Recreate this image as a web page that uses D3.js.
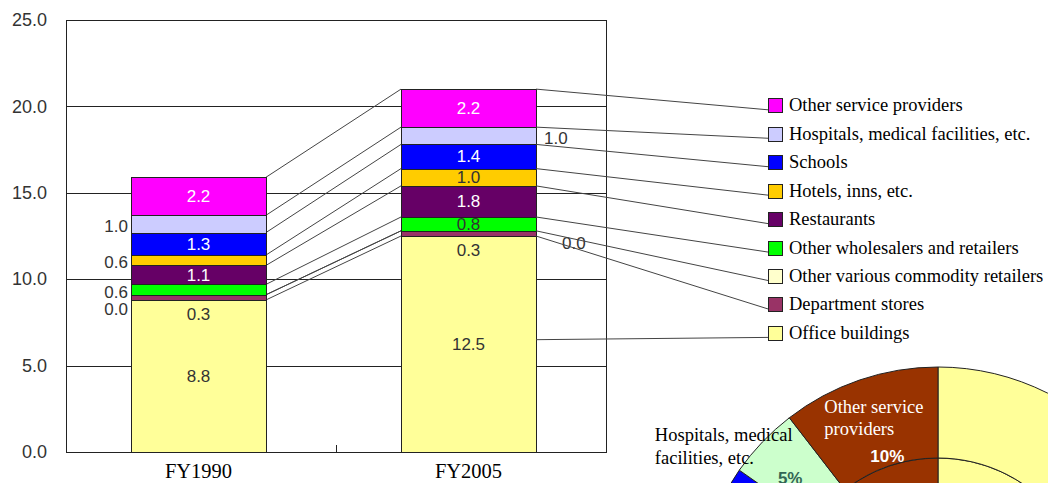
<!DOCTYPE html>
<html>
<head>
<meta charset="utf-8">
<script src="https://cdn.jsdelivr.net/npm/d3@7"></script>
<style>
  html, body { margin: 0; padding: 0; background: #fff; }
  svg { display: block; overflow: hidden; }
</style>
</head>
<body>
<svg id="chart" width="1048" height="483"></svg>
<script>
// ---- data -------------------------------------------------------------
const years = ["FY1990", "FY2005"];

// stacking order, bottom to top
const seriesNames = [
  "Office buildings",
  "Department stores",
  "Other various commodity retailers",
  "Other wholesalers and retailers",
  "Restaurants",
  "Hotels, inns, etc.",
  "Schools",
  "Hospitals, medical facilities, etc.",
  "Other service providers"
];

const fy1990 = [8.8, 0.3, 0.0, 0.6, 1.1, 0.6, 1.3, 1.0, 2.2];
const fy2005 = [12.5, 0.3, 0.0, 0.8, 1.8, 1.0, 1.4, 1.0, 2.2];

const yTicks = [0, 5, 10, 15, 20, 25];

const seriesColors = [
  "#FFFF99", "#993366", "#FFFFCC", "#00FF00", "#660066",
  "#FFCC00", "#0000FF", "#CCCCFF", "#FF00FF"
];

// where each value label sits relative to its segment
const labelModes = {
  FY1990: ["in", "under", "left", "left", "in", "left", "in", "left", "in"],
  FY2005: ["in", "under", "right", "in", "in", "in", "in", "right", "in"]
};

// point of each FY2005 segment (0 = base, 1 = top) that the legend leader starts from
const leaderAnchor = [0.52, 0, 1, 1, 1, 1, 1, 1, 1];

// share breakdown ring colours
const pieColors = [
  "#FFFF99", "#CC99FF", "#FFFFCC", "#33CCCC", "#FF9900",
  "#FF99CC", "#0000FF", "#CCFFCC", "#993300"
];

// ---- layout ----------------------------------------------------------
const svg = d3.select("#chart");
const plot = { left: 66, right: 606, top: 20, bottom: 452 };
const sansFont = "'Liberation Sans', Arial, sans-serif";
const serifFont = "'Liberation Serif', 'Times New Roman', serif";
const ink = "#333";

const y = d3.scaleLinear().domain([0, 25]).range([plot.bottom, plot.top]);
const x = d3.scaleBand().domain(years)
  .range([plot.left - 2.5, plot.right - 2.5])
  .paddingInner(0.5).paddingOuter(0.25);
const bw = x.bandwidth();
const crisp = v => Math.round(v) + 0.5;

// ---- share rings (drawn first, sits at the lower right) ---------------
(function drawRings() {
  const cx = 938, cy = 610;
  const g = svg.append("g").attr("transform", `translate(${cx},${cy})`);
  const pie = d3.pie().sort(null);
  const inner = pie(fy1990);
  const outer = pie(fy2005);
  const rHole = 50, rMid = 152, rOut = 243;
  const arcIn = d3.arc().innerRadius(rHole).outerRadius(rMid);
  const arcOut = d3.arc().innerRadius(rMid).outerRadius(rOut);

  g.selectAll("path.in").data(inner).join("path")
    .attr("class", "in")
    .attr("d", arcIn)
    .attr("fill", (d, i) => pieColors[i])
    .attr("stroke", "#222").attr("stroke-width", 1);
  g.selectAll("path.out").data(outer).join("path")
    .attr("class", "out")
    .attr("d", arcOut)
    .attr("fill", (d, i) => pieColors[i])
    .attr("stroke", "#222").attr("stroke-width", 1);

  const total = d3.sum(fy2005);
  const pct = d3.format(".0%");
  const polar = (a, r) => [r * Math.sin(a), -r * Math.cos(a)];

  // "Other service providers" – name and share inside the ring
  const os = outer[8];
  const osMid = (os.startAngle + os.endAngle) / 2;
  const [px, py] = polar(osMid, rMid + 11);
  g.append("text")
    .attr("x", px - 61).attr("y", py - 43)
    .attr("font-family", serifFont).attr("font-size", 18.5).attr("fill", "#fff")
    .text("Other service");
  g.append("text")
    .attr("x", px - 61).attr("y", py - 21)
    .attr("font-family", serifFont).attr("font-size", 18.5).attr("fill", "#fff")
    .text("providers");
  g.append("text")
    .attr("x", px + 2).attr("y", py).attr("dy", "0.35em")
    .attr("text-anchor", "middle")
    .attr("font-family", sansFont).attr("font-size", 17).attr("font-weight", "bold")
    .attr("fill", "#fff")
    .text(pct(fy2005[8] / total));

  // "Hospitals, medical facilities, etc." – name outside, share inside
  const hp = outer[7];
  const hpMid = (hp.startAngle + hp.endAngle) / 2;
  const [hx, hy] = polar(hpMid, rOut + 27);
  g.append("text")
    .attr("x", hx - 88).attr("y", hy + 18)
    .attr("font-family", serifFont).attr("font-size", 18.5).attr("fill", "#000")
    .text("Hospitals, medical");
  g.append("text")
    .attr("x", hx - 88).attr("y", hy + 41)
    .attr("font-family", serifFont).attr("font-size", 18.5).attr("fill", "#000")
    .text("facilities, etc.");
  const [qx, qy] = polar(hpMid - 0.035, 198);
  g.append("text")
    .attr("x", qx).attr("y", qy).attr("dy", "0.35em")
    .attr("text-anchor", "middle")
    .attr("font-family", sansFont).attr("font-size", 17).attr("font-weight", "bold")
    .attr("fill", "#336655")
    .text(pct(fy2005[7] / total));
})();

// ---- plot area: gridlines and frame ----------------------------------
const grid = svg.append("g").attr("shape-rendering", "crispEdges");
grid.selectAll("line.grid").data(yTicks).join("line")
  .attr("class", "grid")
  .attr("x1", plot.left).attr("x2", plot.right)
  .attr("y1", d => crisp(y(d))).attr("y2", d => crisp(y(d)))
  .attr("stroke", "#222").attr("stroke-width", 1);
grid.append("line")
  .attr("x1", crisp(plot.left)).attr("x2", crisp(plot.left))
  .attr("y1", plot.top).attr("y2", plot.bottom + 0.5)
  .attr("stroke", "#222");
grid.append("line")
  .attr("x1", crisp(plot.right)).attr("x2", crisp(plot.right))
  .attr("y1", plot.top).attr("y2", plot.bottom + 0.5)
  .attr("stroke", "#222");

// y axis labels
const yAxis = svg.append("g")
  .attr("transform", `translate(${plot.left},0)`)
  .call(d3.axisLeft(y).tickValues(yTicks).tickFormat(d3.format(".1f"))
    .tickSize(0).tickPadding(19));
yAxis.select(".domain").remove();
yAxis.selectAll("text")
  .attr("font-family", sansFont).attr("font-size", 18).attr("fill", ink);

// x axis labels
const xAxis = svg.append("g")
  .attr("transform", `translate(0,${plot.bottom})`)
  .call(d3.axisBottom(x).tickSize(0).tickPadding(11));
xAxis.select(".domain").remove();
xAxis.selectAll("text")
  .attr("font-family", serifFont).attr("font-size", 20.5).attr("fill", "#000");

// small category divider tick on the baseline
const divX = (plot.left + plot.right) / 2;
svg.append("line")
  .attr("x1", crisp(divX)).attr("x2", crisp(divX))
  .attr("y1", plot.bottom).attr("y2", plot.bottom - 7)
  .attr("stroke", "#222").attr("shape-rendering", "crispEdges");

// ---- stacked bars ----------------------------------------------------
const rows = years.map((yr, j) => {
  const vals = j === 0 ? fy1990 : fy2005;
  const r = { year: yr };
  seriesNames.forEach((s, i) => { r[s] = vals[i]; });
  return r;
});
const stacked = d3.stack().keys(seriesNames)(rows);

// series lines joining the segment tops of the two bars
svg.append("g").selectAll("line").data(stacked).join("line")
  .attr("x1", x(years[0]) + bw).attr("y1", d => y(d[0][1]))
  .attr("x2", x(years[1])).attr("y2", d => y(d[1][1]))
  .attr("stroke", "#444").attr("stroke-width", 1);

const bars = svg.append("g").attr("shape-rendering", "crispEdges");
stacked.forEach((layer, i) => {
  bars.selectAll(null).data(layer).join("rect")
    .attr("x", d => Math.round(x(d.data.year)) + 0.5)
    .attr("y", d => Math.round(y(d[1])) + 0.5)
    .attr("width", Math.round(bw))
    .attr("height", d => Math.max(0, Math.round(y(d[0])) - Math.round(y(d[1]))))
    .attr("fill", seriesColors[i])
    .attr("stroke", "#222").attr("stroke-width", 1);
});

// value labels
const fmt = d3.format(".1f");
const labels = svg.append("g")
  .attr("font-family", sansFont).attr("font-size", 17);
stacked.forEach((layer, i) => {
  layer.forEach(d => {
    const yr = d.data.year;
    const mode = labelModes[yr][i];
    const v = d[1] - d[0];
    const x0 = x(yr), x1 = x0 + bw;
    const mid = (y(d[0]) + y(d[1])) / 2;
    let tx, ty, anchor, fill = ink;
    if (mode === "in") {
      tx = x0 + bw / 2; ty = mid; anchor = "middle";
      fill = d3.lab(seriesColors[i]).l < 70 ? "#fff" : ink;
    } else if (mode === "under") {
      tx = x0 + bw / 2; ty = y(d[0]) + 14; anchor = "middle";
    } else if (mode === "left") {
      tx = x0 - 3; ty = v > 0 ? mid + 2 : y(d[0]) + 14; anchor = "end";
    } else {
      tx = x1 + (v > 0 ? 8 : 26); ty = v > 0 ? mid + 2 : y(d[0]) + 12; anchor = "start";
    }
    labels.append("text")
      .attr("x", tx).attr("y", ty).attr("dy", "0.35em")
      .attr("text-anchor", anchor).attr("fill", fill)
      .text(fmt(v));
  });
});

// ---- legend with leader lines from the FY2005 bar ----------------------
const legend = { x: 768, top: 105.3, step: 28.45, box: 14 };
const legendOrder = d3.range(seriesNames.length).reverse();
const lg = svg.append("g");
legendOrder.forEach((si, row) => {
  const cyRow = legend.top + row * legend.step;
  const seg = stacked[si][1];
  const startY = y(seg[0] + leaderAnchor[si] * (seg[1] - seg[0]));
  lg.append("line")
    .attr("x1", x(years[1]) + bw).attr("y1", startY)
    .attr("x2", legend.x).attr("y2", cyRow + 4.5)
    .attr("stroke", "#444").attr("stroke-width", 1);
  lg.append("rect")
    .attr("x", legend.x + 0.5).attr("y", Math.round(cyRow - legend.box / 2) + 0.5)
    .attr("width", legend.box).attr("height", legend.box)
    .attr("fill", seriesColors[si]).attr("stroke", "#222")
    .attr("shape-rendering", "crispEdges");
  lg.append("text")
    .attr("x", legend.x + legend.box + 7).attr("y", cyRow + 6)
    .attr("font-family", serifFont).attr("font-size", 18.5).attr("fill", "#000")
    .text(seriesNames[si]);
});
</script>
</body>
</html>
